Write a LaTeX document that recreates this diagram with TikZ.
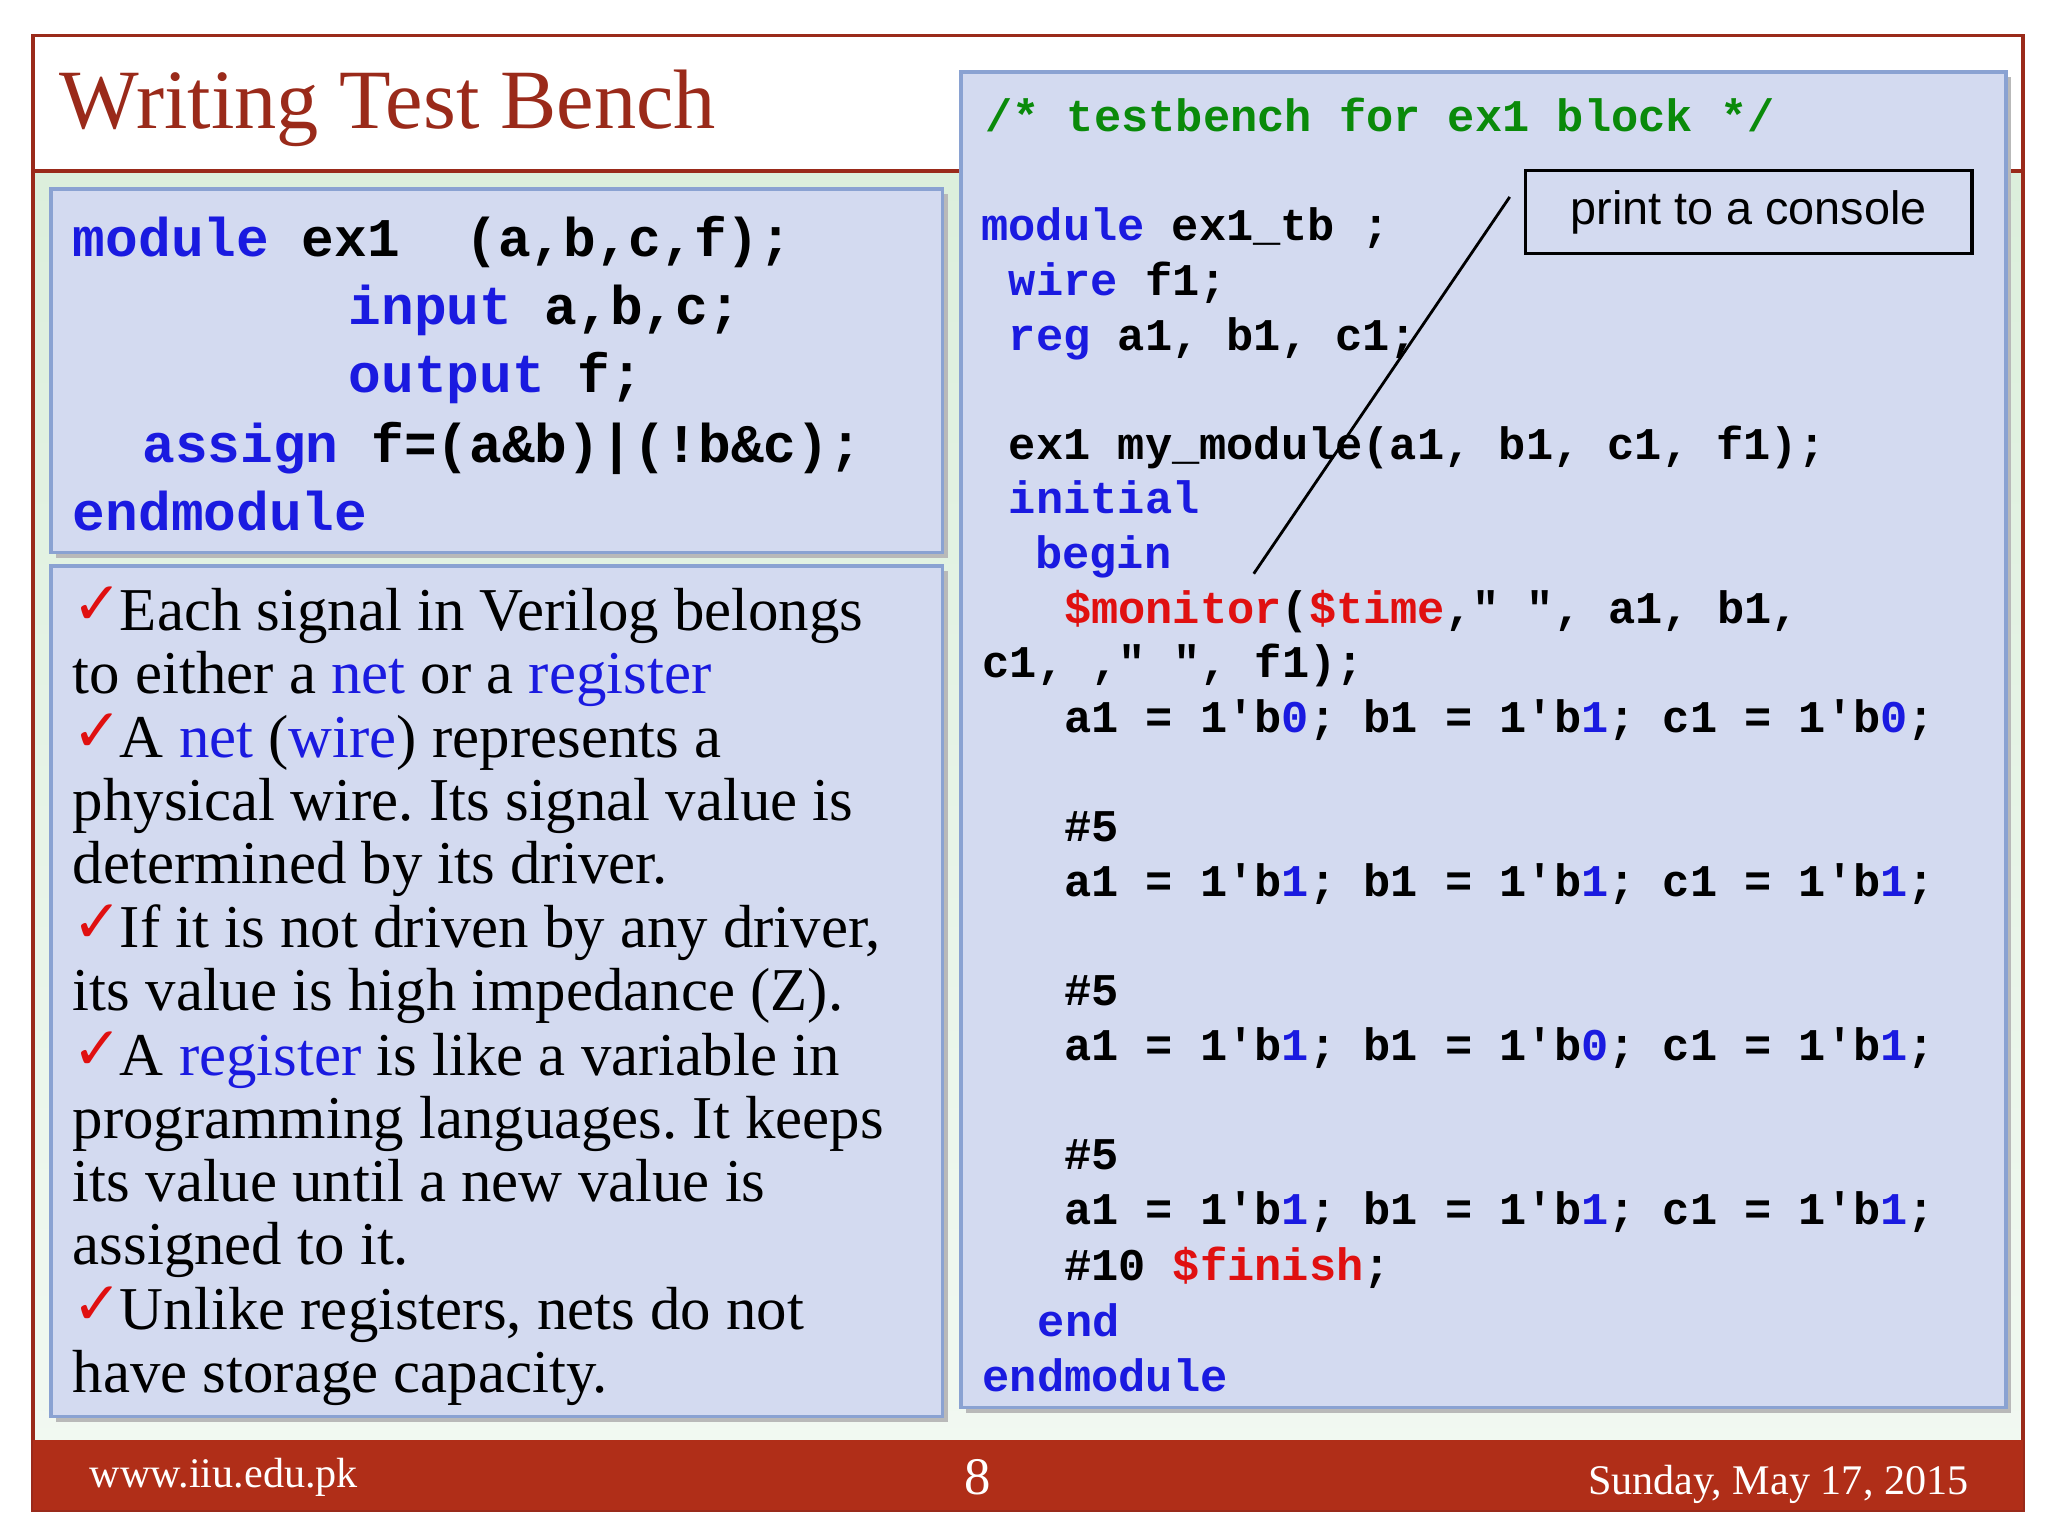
\documentclass[tikz,border=0pt]{standalone}
\usepackage{fontspec}
\setmainfont{Liberation Serif}
\setsansfont{Liberation Sans}
\setmonofont{Liberation Mono}
\newfontfamily\symfont{DejaVu Sans}
\frenchspacing
\definecolor{dred}{HTML}{9A2A1A}
\definecolor{barred}{HTML}{B02E18}
\definecolor{boxfill}{HTML}{D3DAF0}
\definecolor{boxline}{HTML}{8AA2D2}
\definecolor{kwblue}{HTML}{1A1AE0}
\definecolor{cmgreen}{HTML}{0A8A0A}
\definecolor{sred}{HTML}{E01010}
\definecolor{bgreen}{HTML}{DCEFDC}
\newcommand{\kw}[1]{\textcolor{kwblue}{#1}}
\newcommand{\rd}[1]{\textcolor{sred}{#1}}
\newcommand{\ck}{\textcolor{sred}{\raisebox{0.2ex}{\symfont\fontsize{17pt}{17pt}\selectfont ✓}}\kern-0.05em}
\tikzset{
 panel/.style={draw=boxline, fill=boxfill, line width=1pt},
 shadowbox/.style={fill=gray!55},
 lcode/.style={anchor=base west, inner sep=0pt, font=\ttfamily\bfseries\fontsize{15.5pt}{18pt}\selectfont},
 rcode/.style={anchor=base west, inner sep=0pt, font=\ttfamily\bfseries\fontsize{12.9pt}{15pt}\selectfont},
 prose/.style={anchor=base west, inner sep=0pt, font=\fontsize{17.3pt}{18pt}\selectfont},
 foot/.style={anchor=base, inner sep=0pt, text=white, font=\fontsize{12pt}{14pt}\selectfont}
}
\begin{document}
\begin{tikzpicture}[x=0.013128cm,y=-0.013128cm]
\useasboundingbox (0,0) rectangle (1560,1170);
\fill[white] (0,0) rectangle (1560,1170);
% background
\shade[top color=bgreen, bottom color=bgreen!40!white] (25,130) rectangle (1541,1097);
\draw[dred, line width=1pt] (25,27) rectangle (1541,1150);
\draw[dred, line width=1.2pt] (25,130) -- (1541,130);
\fill[barred] (25,1097) rectangle (1541,1150);
\node[anchor=base west, inner sep=0pt, text=dred, font=\fontsize{24pt}{26pt}\selectfont] (title) at (45,98) {Writing Test Bench};
\node[foot, anchor=base west] (url) at (68,1133) {www.iiu.edu.pk};
\node[foot, font=\fontsize{15pt}{16pt}\selectfont] (pg) at (745,1138) {8};
\node[foot, anchor=base east] (date) at (1500,1138) {Sunday, May 17, 2015};
% boxes
\fill[shadowbox] (43,148) rectangle (722,425);
\draw[panel] (39,144) rectangle (718,421);
\fill[shadowbox] (43,435) rectangle (722,1083);
\draw[panel] (39,431) rectangle (718,1079);
\fill[shadowbox] (736,59) rectangle (1532,1076);
\draw[panel] (732,55) rectangle (1528,1072);
% left code
\node[lcode] (l1) at (55,195) {\kw{module} ex1~ (a,b,c,f);};
\node[lcode] (l2) at (265,247) {\kw{input} a,b,c;};
\node[lcode] (l3) at (265,299) {\kw{output} f;};
\node[lcode] (l4) at (108,352) {\kw{assign} f=(a\&b)|(!b\&c);};
\node[lcode] (l5) at (55,404) {\kw{endmodule}};
% prose
\node[prose] (p1) at (55,480) {\ck Each signal in Verilog belongs};
\node[prose] (p2) at (55,528) {to either a \kw{net} or a \kw{register}};
\node[prose] (p3) at (55,577) {\ck A \kw{net} (\kw{wire}) represents a};
\node[prose] (p4) at (55,625) {physical wire. Its signal value is};
\node[prose] (p5) at (55,673) {determined by its driver.};
\node[prose] (p6) at (55,722) {\ck If it is not driven by any driver,};
\node[prose] (p7) at (55,770) {its value is high impedance (Z).};
\node[prose] (p8) at (55,819) {\ck A \kw{register} is like a variable in};
\node[prose] (p9) at (55,867) {programming languages. It keeps};
\node[prose] (p10) at (55,915) {its value until a new value is};
\node[prose] (p11) at (55,963) {assigned to it.};
\node[prose] (p12) at (55,1013) {\ck Unlike registers, nets do not};
\node[prose] (p13) at (55,1061) {have storage capacity.};
% right code
\node[rcode, text=cmgreen] (r0) at (750,100) {/* testbench for ex1 block */};
\node[rcode] (r1) at (747,183) {\kw{module} ex1\_tb ;};
\node[rcode] (r2) at (768,225) {\kw{wire} f1;};
\node[rcode] (r3) at (768,267) {\kw{reg} a1, b1, c1;};
\node[rcode] (r4) at (768,350) {ex1 my\_module(a1, b1, c1, f1);};
\node[rcode] (r5) at (768,391) {\kw{initial}};
\node[rcode] (r6) at (788,433) {\kw{begin}};
\node[rcode] (r7) at (810,475) {\rd{\$monitor}(\rd{\$time}," ", a1, b1,};
\node[rcode] (r8) at (748,516) {c1, ," ", f1);};
\node[rcode] (r9) at (810,558) {a1 = 1'b\kw{0}; b1 = 1'b\kw{1}; c1 = 1'b\kw{0};};
\node[rcode] (r10) at (810,641) {\#5};
\node[rcode] (r11) at (810,683) {a1 = 1'b\kw{1}; b1 = 1'b\kw{1}; c1 = 1'b\kw{1};};
\node[rcode] (r12) at (810,766) {\#5};
\node[rcode] (r13) at (810,808) {a1 = 1'b\kw{1}; b1 = 1'b\kw{0}; c1 = 1'b\kw{1};};
\node[rcode] (r14) at (810,891) {\#5};
\node[rcode] (r15) at (810,933) {a1 = 1'b\kw{1}; b1 = 1'b\kw{1}; c1 = 1'b\kw{1};};
\node[rcode] (r16) at (810,975) {\#10 \rd{\$finish};};
\node[rcode] (r17) at (790,1018) {\kw{end}};
\node[rcode] (r18) at (748,1060) {\kw{endmodule}};
% callout
\node[draw=black, line width=1pt, fill=boxfill, minimum width=340*0.013128cm, minimum height=63*0.013128cm, font=\sffamily\fontsize{13.3pt}{15pt}\selectfont] (call) at (1332,161.5) {print to a console};
\coordinate (ce) at (1150,150);
\coordinate (cs) at (955,437);
\draw[black, line width=0.8pt] (ce) -- (cs);
\end{tikzpicture}
\end{document}
